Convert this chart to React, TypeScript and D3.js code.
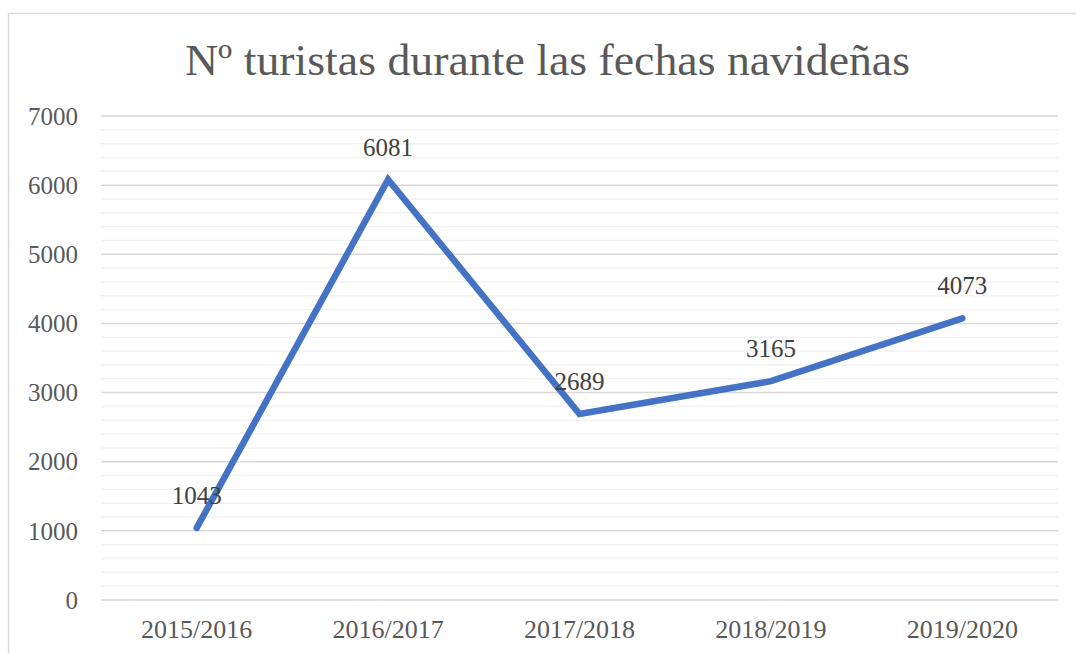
import { useEffect, useRef } from 'react';
import * as d3 from 'd3';

const categories = ['2015/2016', '2016/2017', '2017/2018', '2018/2019', '2019/2020'];
const turistas = [1043, 6081, 2689, 3165, 4073];
const yTicks = [0, 1000, 2000, 3000, 4000, 5000, 6000, 7000];
const title = 'Nº turistas durante las fechas navideñas';

const WIDTH = 1076;
const HEIGHT = 653;
const FONT = '"Liberation Serif", "DejaVu Serif", serif';

export default function App() {
  const svgRef = useRef<SVGSVGElement>(null);

  useEffect(() => {
    if (!svgRef.current) return;
    const svg = d3.select(svgRef.current);
    svg.selectAll('*').remove();

    const left = 101;
    const right = 1058;
    const top = 116;
    const bottom = 600;

    const x = d3.scaleBand<string>().domain(categories).range([left, right]);
    const y = d3.scaleLinear().domain([0, 7000]).range([bottom, top]);

    // chart border
    svg.append('rect')
      .attr('x', 8.5)
      .attr('y', 13.5)
      .attr('width', WIDTH)
      .attr('height', HEIGHT)
      .attr('fill', 'white')
      .attr('stroke', '#d9d9d9')
      .attr('stroke-width', 1.5);

    // title
    svg.append('text')
      .attr('x', 185)
      .attr('y', 75)
      .attr('textLength', 725)
      .attr('lengthAdjust', 'spacingAndGlyphs')
      .style('font-family', FONT)
      .style('font-size', '45px')
      .style('fill', '#595959')
      .text(title);

    // minor gridlines
    const minor = d3.range(200, 7000, 200).filter(v => v % 1000 !== 0);
    svg.append('g')
      .selectAll('line')
      .data(minor)
      .join('line')
      .attr('x1', left)
      .attr('x2', right)
      .attr('y1', d => y(d))
      .attr('y2', d => y(d))
      .attr('stroke', '#f2f2f2')
      .attr('stroke-width', 1.5);

    // major gridlines
    svg.append('g')
      .selectAll('line')
      .data(yTicks)
      .join('line')
      .attr('x1', left)
      .attr('x2', right)
      .attr('y1', d => y(d))
      .attr('y2', d => y(d))
      .attr('stroke', '#d9d9d9')
      .attr('stroke-width', 1.5);

    // y labels
    svg.append('g')
      .selectAll('text')
      .data(yTicks)
      .join('text')
      .attr('x', 78)
      .attr('y', d => y(d))
      .attr('dy', '0.35em')
      .attr('text-anchor', 'end')
      .style('font-family', FONT)
      .style('font-size', '25px')
      .style('fill', '#595959')
      .text(d => d);

    // x labels
    svg.append('g')
      .selectAll('text')
      .data(categories)
      .join('text')
      .attr('x', d => (x(d) ?? 0) + x.bandwidth() / 2)
      .attr('y', 638)
      .attr('text-anchor', 'middle')
      .style('font-family', FONT)
      .style('font-size', '26px')
      .style('fill', '#595959')
      .text(d => d);

    const pts = categories.map((c, i) => ({ c, v: turistas[i] }));
    const line = d3.line<{ c: string; v: number }>()
      .x(d => (x(d.c) ?? 0) + x.bandwidth() / 2)
      .y(d => y(d.v));

    svg.append('path')
      .datum(pts)
      .attr('d', line)
      .attr('fill', 'none')
      .attr('stroke', '#4472c4')
      .attr('stroke-width', 6.5)
      .attr('stroke-linecap', 'round')
      .attr('stroke-linejoin', 'miter');

    // data labels
    svg.append('g')
      .selectAll('text')
      .data(pts)
      .join('text')
      .attr('x', d => (x(d.c) ?? 0) + x.bandwidth() / 2)
      .attr('y', d => y(d.v) - 24)
      .attr('text-anchor', 'middle')
      .style('font-family', FONT)
      .style('font-size', '25px')
      .style('fill', '#404040')
      .text(d => d.v);
  }, []);

  return (
    <svg
      ref={svgRef}
      width={WIDTH}
      height={HEIGHT}
      style={{ position: 'absolute', left: 0, top: 0, background: 'white' }}
    />
  );
}
